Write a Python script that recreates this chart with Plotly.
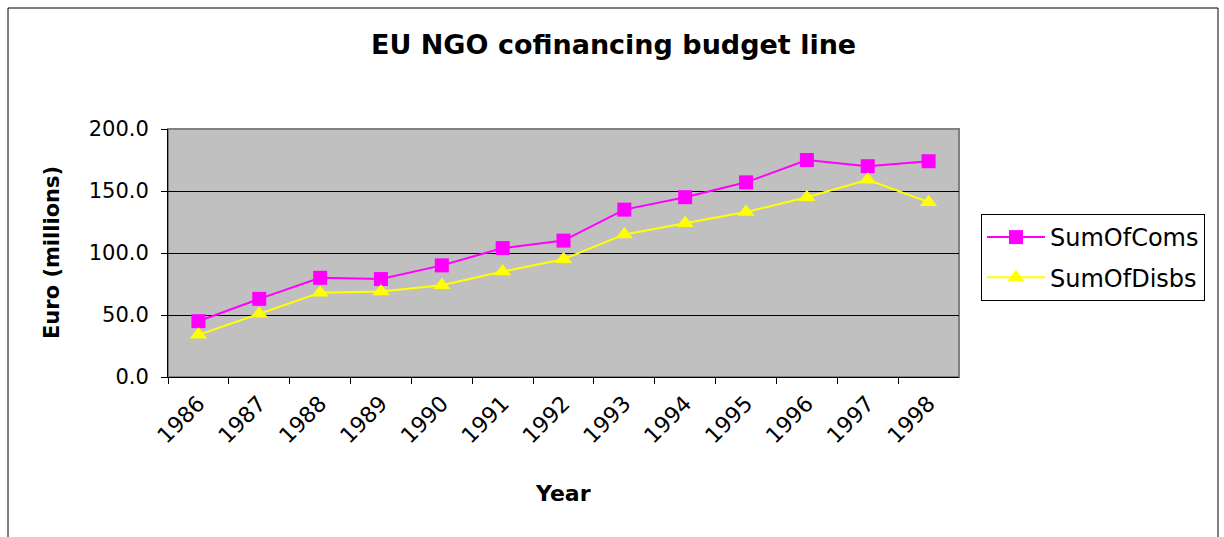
import plotly.graph_objects as go

years = ["1986", "1987", "1988", "1989", "1990", "1991", "1992",
         "1993", "1994", "1995", "1996", "1997", "1998"]
sum_of_coms = [45, 63, 80, 79, 90, 104, 110, 135, 145, 157, 175, 170, 174]
sum_of_disbs = [34, 51, 68, 69, 74, 85, 95, 115, 124, 133, 145, 159, 141]

W, H = 1224, 537
FONT = "DejaVu Sans, Liberation Sans, Arial, sans-serif"

fig = go.Figure()
fig.add_trace(go.Scatter(
    x=years, y=sum_of_coms, name="SumOfComs", mode="lines+markers",
    legendgroup="a",
    line=dict(color="#FF00FF", width=2),
    marker=dict(symbol="square", size=14, color="#FF00FF"),
))
fig.add_trace(go.Scatter(
    x=years, y=sum_of_disbs, name="SumOfDisbs", mode="lines+markers",
    legendgroup="b",
    line=dict(color="#FFFF00", width=2),
    marker=dict(symbol="triangle-up", size=15, color="#FFFF00"),
))

px0, px1 = 168 / W, 959 / W
py0, py1 = 1 - 377 / H, 1 - 129 / H

fig.update_layout(
    width=W, height=H,
    margin=dict(l=0, r=0, t=0, b=0),
    paper_bgcolor="white",
    plot_bgcolor="#C0C0C0",
    font=dict(family=FONT, color="black", size=20),
    showlegend=True,
    legend=dict(
        x=981 / W, y=1 - 214 / H, xanchor="left", yanchor="top",
        bordercolor="black", borderwidth=1, bgcolor="white",
        font=dict(size=24, family=FONT), itemwidth=58,
        traceorder="grouped", tracegroupgap=6,
    ),
    xaxis=dict(
        domain=[px0, px1], type="category", tickson="boundaries",
        showline=True, linecolor="black", linewidth=1,
        ticks="outside", ticklen=6, tickcolor="black",
        tickangle=-45, showgrid=False, automargin=False,
        tickfont=dict(size=22, family=FONT), ticklabelstandoff=4,
        range=[-0.5, 12.5],
    ),
    yaxis=dict(
        domain=[py0, py1], range=[0, 200], dtick=50, tickformat=".1f",
        showline=True, linecolor="black", linewidth=1,
        ticks="outside", ticklen=6, tickcolor="black",
        showgrid=True, gridcolor="black", gridwidth=1,
        zeroline=False, automargin=False,
        tickfont=dict(size=21, family=FONT), ticklabelstandoff=8,
    ),
    shapes=[
        dict(type="rect", xref="paper", yref="paper",
             x0=px0, x1=px1, y0=py0, y1=py1,
             line=dict(color="#808080", width=2), layer="below"),
        dict(type="rect", xref="paper", yref="paper",
             x0=8 / W, x1=1218 / W, y0=-0.05, y1=1 - 8 / H,
             line=dict(color="black", width=1)),
    ],
    annotations=[
        dict(text="<b>EU NGO cofinancing budget line</b>", xref="paper", yref="paper",
             x=613 / W, y=1 - 45 / H, showarrow=False, font=dict(size=27, family=FONT),
             xanchor="center", yanchor="middle"),
        dict(text="<b>Euro (millions)</b>", xref="paper", yref="paper",
             x=52 / W, y=1 - 253 / H, showarrow=False, textangle=-90,
             font=dict(size=21, family=FONT), xanchor="center", yanchor="middle"),
        dict(text="<b>Year</b>", xref="paper", yref="paper",
             x=563 / W, y=1 - 493 / H, showarrow=False,
             font=dict(size=22, family=FONT), xanchor="center", yanchor="middle"),
    ],
)

fig.write_html("out.html")
